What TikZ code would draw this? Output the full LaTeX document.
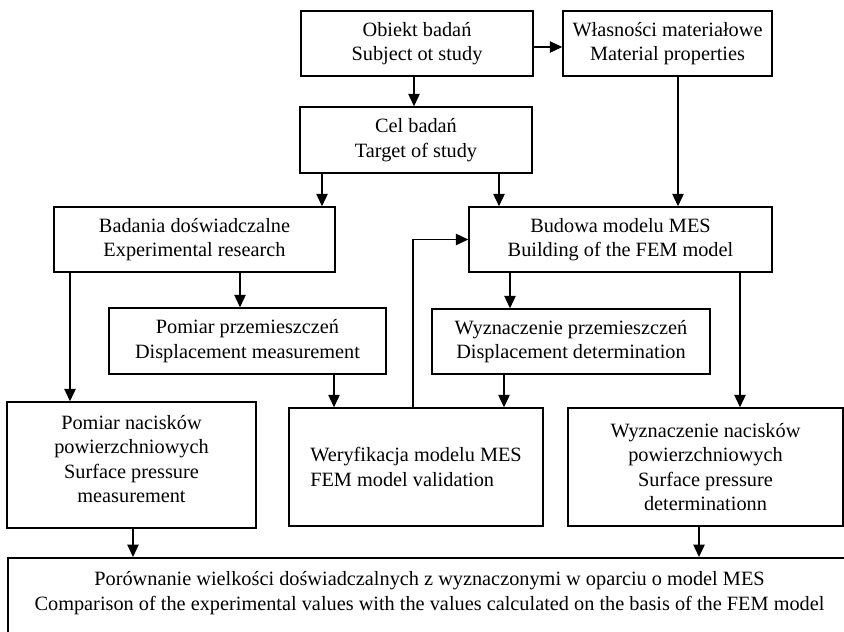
\documentclass[tikz,border=0pt]{standalone}
\usepackage{fontspec}
\setmainfont{Liberation Serif}
\usetikzlibrary{arrows.meta,calc}
\begin{document}
\begin{tikzpicture}[x=1pt,y=-1pt,
  box/.style={draw,line width=1.5pt,rectangle,inner sep=0pt,align=center,
    font=\fontsize{20.3}{24.3}\selectfont},
  arr/.style={line width=1.3pt,-{Triangle[length=12.5pt,width=11.5pt]}},
  ln/.style={line width=1.3pt}]
\clip (0,0) rectangle (844,632);
\fill[white] (0,0) rectangle (844,632);
\node[box,minimum width=232pt,minimum height=65pt] (obiekt) at (417,43.5) {Obiekt badań\\Subject ot study};
\node[box,minimum width=209pt,minimum height=65pt] (wlas) at (667.5,43.5) {Własności materiałowe\\Material properties};
\node[box,minimum width=232pt,minimum height=66pt] (cel) at (416,140) {Cel badań\\Target of study};
\node[box,minimum width=281pt,minimum height=65pt] (badania) at (194.5,239.5) {Badania doświadczalne\\Experimental research};
\node[box,minimum width=303pt,minimum height=65pt] (budowa) at (620.5,239.5) {Budowa modelu MES\\Building of the FEM model};
\node[box,minimum width=277pt,minimum height=66pt] (pprzem) at (247.5,341) {Pomiar przemieszczeń\\Displacement measurement};
\node[box,minimum width=278pt,minimum height=65pt] (wprzem) at (571,341.5) {Wyznaczenie przemieszczeń\\Displacement determination};
\node[box,minimum width=249pt,minimum height=126pt] (pnac) at (131.5,465) {Pomiar nacisków\\powierzchniowych\\Surface pressure\\measurement\\[-12.3pt]\mbox{}};
\node[box,minimum width=254pt,minimum height=118pt,align=left] (wery) at (416,467) {Weryfikacja modelu MES\\FEM model validation};
\node[box,minimum width=275pt,minimum height=118pt] (wnac) at (705.5,467) {Wyznaczenie nacisków\\powierzchniowych\\Surface pressure\\determinationn};
\node[box,minimum width=843pt,anchor=north,inner ysep=14pt,text depth=60pt] (cmp) at (429.5,557) {Porównanie wielkości doświadczalnych z wyznaczonymi w oparciu o model MES\\Comparison of the experimental values with the values calculated on the basis of the FEM model};
\draw[arr] ([yshift=-3.5pt]obiekt.east) -- ([yshift=-3.5pt]wlas.west);
\draw[arr] (obiekt.south -| 414,0) -- (cel.north -| 414,0);
\draw[arr] (cel.south -| 322,0) -- (badania.north -| 322,0);
\draw[arr] (cel.south -| 499,0) -- (budowa.north -| 499,0);
\draw[arr] (wlas.south -| 678,0) -- (budowa.north -| 678,0);
\draw[arr] (badania.south -| 70,0) -- (pnac.north -| 70,0);
\draw[arr] (badania.south -| 240,0) -- (pprzem.north -| 240,0);
\draw[arr] (budowa.south -| 510,0) -- (wprzem.north -| 510,0);
\draw[arr] (budowa.south -| 740,0) -- (wnac.north -| 740,0);
\draw[arr] (pprzem.south -| 334,0) -- (wery.north -| 334,0);
\draw[arr] (wprzem.south -| 504,0) -- (wery.north -| 504,0);
\draw[arr] (wery.north -| 413,0) |- (budowa.west);
\draw[arr] (pnac.south -| 133,0) -- (cmp.north -| 133,0);
\draw[arr] (wnac.south -| 699,0) -- (cmp.north -| 699,0);
\end{tikzpicture}
\end{document}
